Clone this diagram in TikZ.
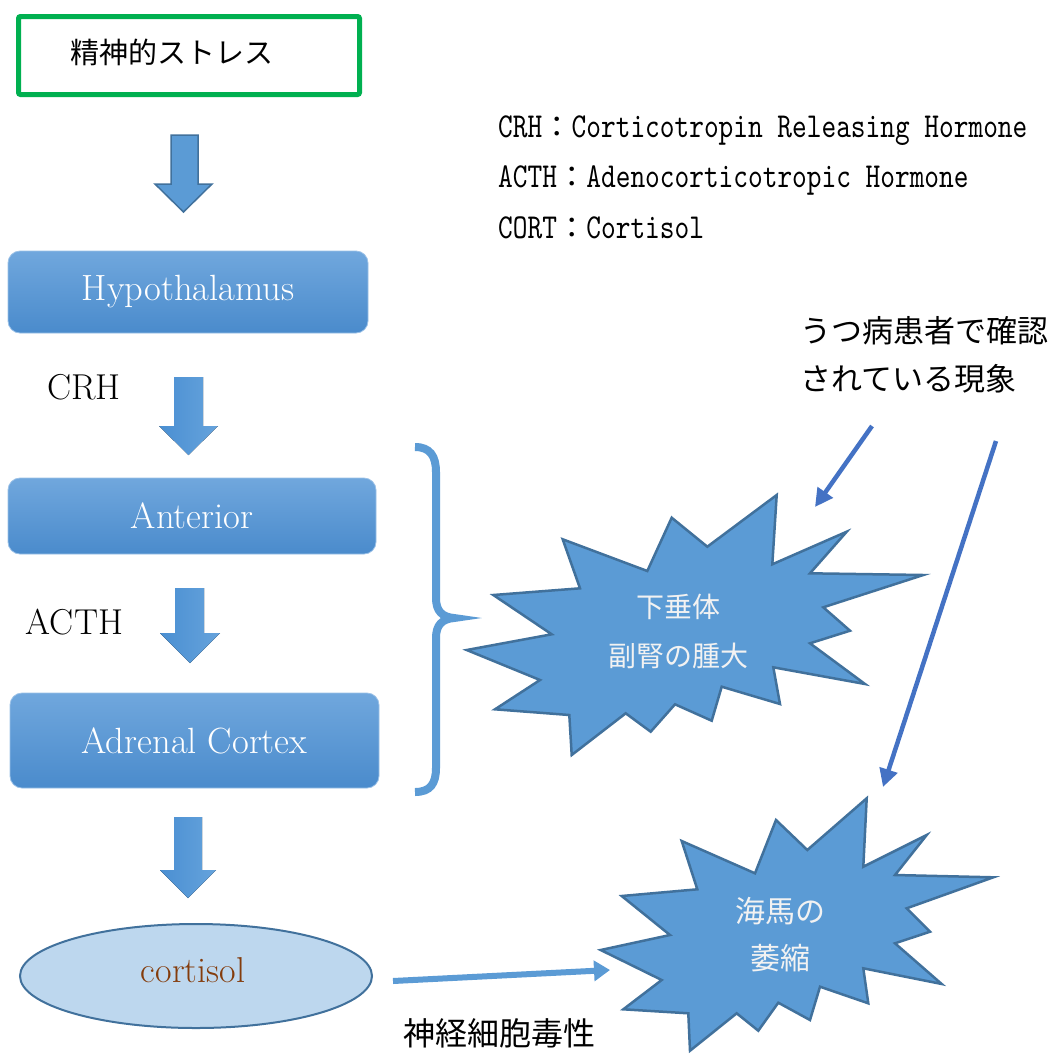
\documentclass[tikz,border=0pt]{standalone}
\usepackage{fontspec}
\newfontfamily\cjk{Noto Sans CJK JP}
\newfontfamily\legendfont[FakeStretch=0.8]{lmmono10-regular.otf}
\usetikzlibrary{arrows.meta,shapes.geometric}
\definecolor{blueA}{HTML}{5B9BD5}
\definecolor{blueB}{HTML}{41719C}
\definecolor{blueC}{HTML}{4472C4}
\definecolor{greenA}{HTML}{00B050}
\definecolor{boxtop}{HTML}{70A7DD}
\definecolor{boxbot}{HTML}{4A8BCC}
\definecolor{ellfill}{HTML}{BDD7EE}
\definecolor{cortbrown}{HTML}{843C0C}
\definecolor{arrL}{HTML}{4A8FD2}
\definecolor{arrR}{HTML}{66A3DC}
\definecolor{burstText}{HTML}{F2F2F2}
\tikzset{
  procbox/.style={rounded corners=12pt, top color=boxtop, bottom color=boxbot,
    draw=boxtop!70!white, line width=0.8pt, text=white, inner sep=0pt,
    font=\fontsize{36.5}{42}\selectfont},
  burst/.style={fill=blueA, draw=blueB, line width=2.5pt, line join=miter},
  blockgrad/.style={left color=arrL, right color=arrR, draw=none},
  thinarrow/.style={draw=blueC, line width=4.5pt, -{Triangle[length=18pt,width=18pt]}},
  cortarrow/.style={draw=blueA, line width=6pt, -{Triangle[length=16pt,width=20pt]}},
  jptext/.style={font=\cjk\fontsize{31}{48}\selectfont, inner sep=0pt},
  lbl/.style={font=\fontsize{36}{42}\selectfont, inner sep=0pt},
  legend/.style={anchor=west, inner sep=0pt, font=\legendfont\fontsize{35}{35}\selectfont},
  bursttext/.style={font=\cjk\fontsize{28}{49}\selectfont, text=burstText, align=center, inner sep=0pt}
}
\newcommand{\fwcolon}{{\cjk\fontsize{29.4}{29.4}\selectfont ：}}
\begin{document}
\begin{tikzpicture}[x=1pt,y=-1pt]
\fill[white] (0,0) rectangle (1055,1053);
\useasboundingbox (0,0) rectangle (1055,1053);

% stress box
\node[draw=greenA, line width=5pt, rounded corners=2pt, minimum width=341pt, minimum height=78pt, inner sep=0pt] (stressbox) at (189,55.5) {};
\node[jptext, anchor=west, font=\cjk\fontsize{29}{29}\selectfont] (stress) at (70,52) {精神的ストレス};

% arrow 1 (outlined)
\draw[fill=blueA, draw=blueB, line width=1.5pt, line join=miter]
  (171,135) -- (198,135) -- (198,184) -- (212,184) -- (183.5,212) -- (155,184) -- (171,184) -- cycle;

% process boxes
\node[procbox, minimum width=360pt, minimum height=82pt] (hypo) at (188,292) {Hypothalamus};
\node[procbox, minimum width=368pt, minimum height=76pt] (ant) at (192,516) {Anterior};
\node[procbox, minimum width=369pt, minimum height=95pt] (adr) at (194.5,740.5) {Adrenal Cortex};

% labels
\node[lbl] (crh) at (84,387) {CRH};
\node[lbl] (acth) at (74.5,622) {ACTH};

% block arrows
\fill[blockgrad] (174,377) -- (203,377) -- (203,426) -- (218,426) -- (188.5,455) -- (159,426) -- (174,426) -- cycle;
\fill[blockgrad] (175,588) -- (204,588) -- (204,633) -- (220,633) -- (190,663) -- (160,633) -- (175,633) -- cycle;
\fill[blockgrad] (174,817) -- (202,817) -- (202,870) -- (216,870) -- (188,898) -- (160,870) -- (174,870) -- cycle;

% cortisol
\node[ellipse, draw=blueB, line width=2pt, fill=ellfill, minimum width=352pt, minimum height=104pt, inner sep=0pt] (cort) at (196,976) {};
\node[lbl, text=cortbrown] (corttext) at (193,970) {cortisol};

% brace
\draw[blueA, line width=8pt]
  (415,447) .. controls (430,447) and (436,456) .. (436,472) -- (436,598)
  .. controls (436,611) and (442,617) .. (454,618)
  .. controls (442,619) and (436,625) .. (436,638) -- (436,768)
  .. controls (436,784) and (430,792) .. (415,792);

% legend
\node[legend] (leg1) at (498,131) {CRH\fwcolon Corticotropin Releasing Hormone};
\node[legend] (leg2) at (498,180) {ACTH\fwcolon Adenocorticotropic Hormone};
\node[legend] (leg3) at (498,228) {CORT\fwcolon Cortisol};

% top-right note
\node[jptext, anchor=north west, align=left] (note) at (800,316) {うつ病患者で確認\\されている現象};

% starburst 1
\draw[burst] (466.7,650) -- (551.7,634.3) -- (493.3,595) -- (580,588.3) -- (562.7,539.3) -- (647.3,571) -- (671.7,517.7) -- (707.3,546.7) -- (776.7,495) -- (772.3,564.3) -- (846.7,531.7) -- (810,573.3) -- (923.3,575) -- (823.3,607.3) -- (850,630.7) -- (810,643.3) -- (865,684) -- (773.3,667.3) -- (780,704) -- (721.7,686.7) -- (711.7,720.7) -- (675,704.3) -- (650.7,731.7) -- (625.7,713.3) -- (571.7,755) -- (569.3,715) -- (495,709.3) -- (540,680) -- cycle;
\node[bursttext] (b1) at (678,631) {下垂体\\副腎の腫大};

% starburst 2
\draw[burst] (600.7,950) -- (670,935) -- (621.7,896) -- (697.3,889.3) -- (681.7,841) -- (755,873.3) -- (776,820) -- (807.3,850) -- (866.7,798.3) -- (863.3,866.7) -- (926.7,835) -- (895,875) -- (993.3,877.3) -- (906.7,908.3) -- (930,931.7) -- (895,943.3) -- (941.7,984) -- (863.3,968.3) -- (868.3,1003.3) -- (820,986.7) -- (810,1020) -- (778.3,1002.7) -- (758.3,1030.7) -- (736.7,1013.3) -- (690,1050.7) -- (688.3,1013.3) -- (623.3,1009.3) -- (661.7,980) -- cycle;
\node[bursttext, font=\cjk\fontsize{30}{47}\selectfont] (b2) at (780,935) {海馬の\\萎縮};

% thin arrows
\coordinate (a1s) at (872,426);
\coordinate (a1e) at (815,507);
\coordinate (a2s) at (996,441);
\coordinate (a2e) at (883,787);
\draw[thinarrow] (a1s) -- (a1e);
\draw[thinarrow] (a2s) -- (a2e);

% cortisol -> hippocampus
\coordinate (c1s) at (393,981);
\coordinate (c1e) at (610,970);
\draw[cortarrow] (c1s) -- (c1e);
\node[jptext, font=\cjk\fontsize{32}{32}\selectfont] (neuro) at (499,1033) {神経細胞毒性};
\end{tikzpicture}
\end{document}
